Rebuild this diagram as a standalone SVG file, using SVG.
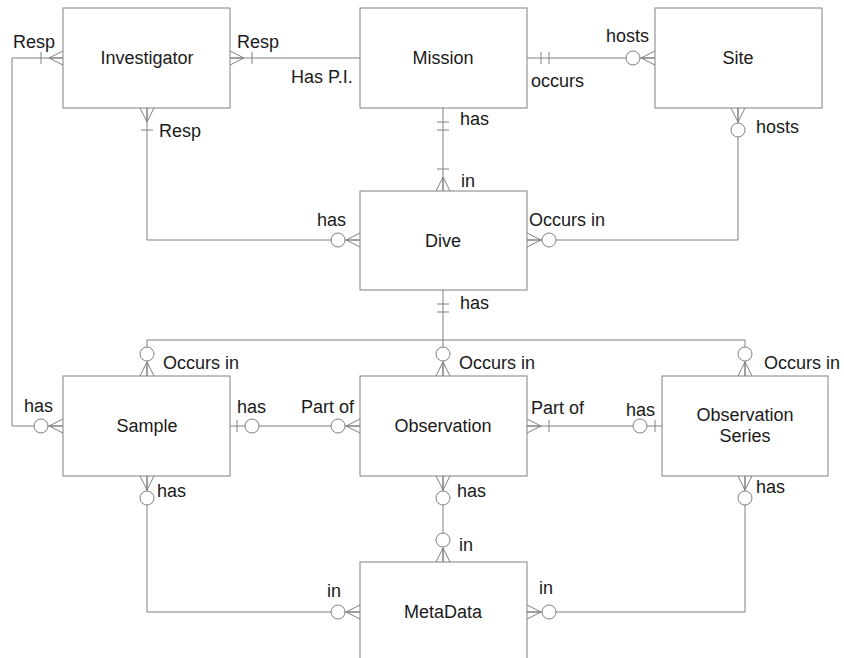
<svg xmlns="http://www.w3.org/2000/svg" xmlns:xlink="http://www.w3.org/1999/xlink" width="844" height="658" viewBox="0 0 844 658">
<style>
.box{fill:#fff;stroke:#808080;stroke-width:1}
.ln{fill:none;stroke:#808080;stroke-width:1}
.mk line,.mk path{fill:none;stroke:#808080;stroke-width:1}
.mk circle{fill:#fff;stroke:#808080;stroke-width:1}
text{font-family:"Liberation Sans",Arial,sans-serif;font-size:18px;fill:#1a1a1a}
.name{text-anchor:middle}
</style>
<defs>
<g id="many0" class="mk"><path d="M0,-7 L-14,0 L0,7 M-14,0 L0,0"/><circle cx="-22" cy="0" r="7"/></g>
<g id="many1" class="mk"><path d="M0,-7 L-14,0 L0,7 M-14,0 L0,0"/><line x1="-22" y1="-6" x2="-22" y2="6"/></g>
<g id="one1" class="mk"><line x1="-14" y1="-6" x2="-14" y2="6"/><line x1="-22" y1="-6" x2="-22" y2="6"/></g>
<g id="one0" class="mk"><line x1="-7" y1="-6" x2="-7" y2="6"/><circle cx="-22" cy="0" r="7"/></g>
</defs>
<rect width="844" height="658" fill="#fff"/>
<g id="connectors">
<polyline class="ln" points="63,58 12,58 12,426 63,426"/>
<line class="ln" x1="230" y1="58" x2="360" y2="58"/>
<polyline class="ln" points="147,108 147,240 360,240"/>
<line class="ln" x1="527" y1="58" x2="655" y2="58"/>
<line class="ln" x1="443" y1="108" x2="443" y2="191"/>
<polyline class="ln" points="738,108 738,240 527,240"/>
<line class="ln" x1="443" y1="290" x2="443" y2="340"/>
<line class="ln" x1="147" y1="340" x2="745" y2="340"/>
<line class="ln" x1="147" y1="340" x2="147" y2="376"/>
<line class="ln" x1="443" y1="340" x2="443" y2="376"/>
<line class="ln" x1="745" y1="340" x2="745" y2="376"/>
<line class="ln" x1="230" y1="426" x2="360" y2="426"/>
<line class="ln" x1="527" y1="426" x2="662" y2="426"/>
<polyline class="ln" points="147,476 147,612 360,612"/>
<line class="ln" x1="443" y1="476" x2="443" y2="562"/>
<polyline class="ln" points="745,476 745,612 527,612"/>
<use xlink:href="#many1" transform="translate(63,58)"/>
<use xlink:href="#many0" transform="translate(63,426)"/>
<use xlink:href="#many1" transform="translate(230,58) rotate(180)"/>
<use xlink:href="#many1" transform="translate(147,108) rotate(-90)"/>
<use xlink:href="#many0" transform="translate(360,240)"/>
<use xlink:href="#one1" transform="translate(527,58) rotate(180)"/>
<use xlink:href="#many0" transform="translate(655,58)"/>
<use xlink:href="#one1" transform="translate(443,108) rotate(-90)"/>
<use xlink:href="#many1" transform="translate(443,191) rotate(90)"/>
<use xlink:href="#many0" transform="translate(738,108) rotate(-90)"/>
<use xlink:href="#many0" transform="translate(527,240) rotate(180)"/>
<use xlink:href="#one1" transform="translate(443,290) rotate(-90)"/>
<use xlink:href="#many0" transform="translate(147,376) rotate(90)"/>
<use xlink:href="#many0" transform="translate(443,376) rotate(90)"/>
<use xlink:href="#many0" transform="translate(745,376) rotate(90)"/>
<use xlink:href="#one0" transform="translate(230,426) rotate(180)"/>
<use xlink:href="#many0" transform="translate(360,426)"/>
<use xlink:href="#many1" transform="translate(527,426) rotate(180)"/>
<use xlink:href="#one0" transform="translate(662,426)"/>
<use xlink:href="#many0" transform="translate(147,476) rotate(-90)"/>
<use xlink:href="#many0" transform="translate(360,612)"/>
<use xlink:href="#many0" transform="translate(443,476) rotate(-90)"/>
<use xlink:href="#many0" transform="translate(443,562) rotate(90)"/>
<use xlink:href="#many0" transform="translate(745,476) rotate(-90)"/>
<use xlink:href="#many0" transform="translate(527,612) rotate(180)"/>
<text x="13" y="48">Resp</text>
<text x="237" y="48">Resp</text>
<text x="291" y="83">Has P.I.</text>
<text x="159" y="137">Resp</text>
<text x="531" y="87">occurs</text>
<text x="606" y="42">hosts</text>
<text x="756" y="133">hosts</text>
<text x="460" y="125">has</text>
<text x="461" y="187">in</text>
<text x="317" y="226">has</text>
<text x="529" y="226">Occurs in</text>
<text x="460" y="309">has</text>
<text x="163" y="369">Occurs in</text>
<text x="459" y="369">Occurs in</text>
<text x="764" y="369">Occurs in</text>
<text x="24" y="412">has</text>
<text x="237" y="413">has</text>
<text x="301" y="413">Part of</text>
<text x="531" y="414">Part of</text>
<text x="626" y="416">has</text>
<text x="157" y="497">has</text>
<text x="457" y="497">has</text>
<text x="756" y="493">has</text>
<text x="327" y="597">in</text>
<text x="459" y="551">in</text>
<text x="539" y="594">in</text>
</g>
<g id="investigator"><rect class="box" x="63" y="8" width="167" height="100"/><text class="name" x="147" y="64">Investigator</text></g>
<g id="mission"><rect class="box" x="360" y="8" width="167" height="100"/><text class="name" x="443" y="64">Mission</text></g>
<g id="site"><rect class="box" x="655" y="8" width="167" height="100"/><text class="name" x="738" y="64">Site</text></g>
<g id="dive"><rect class="box" x="360" y="191" width="167" height="99"/><text class="name" x="443" y="247">Dive</text></g>
<g id="sample"><rect class="box" x="63" y="376" width="167" height="100"/><text class="name" x="147" y="432">Sample</text></g>
<g id="observation"><rect class="box" x="360" y="376" width="167" height="100"/><text class="name" x="443" y="432">Observation</text></g>
<g id="observation-series"><rect class="box" x="662" y="376" width="166" height="100"/><text class="name" x="745" y="421">Observation</text><text class="name" x="745" y="442">Series</text></g>
<g id="metadata"><rect class="box" x="360" y="562" width="167" height="100"/><text class="name" x="443" y="618">MetaData</text></g>
</svg>
